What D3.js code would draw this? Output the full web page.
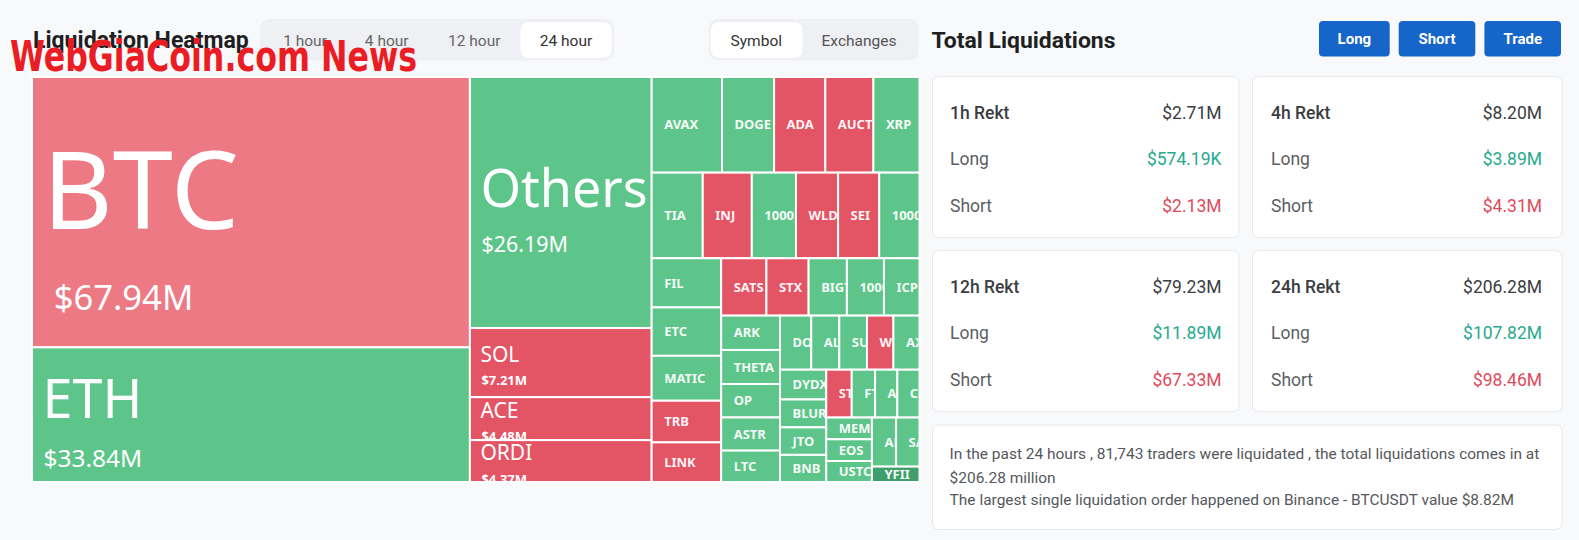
<!DOCTYPE html>
<html><head><meta charset="utf-8">
<script src="https://cdn.jsdelivr.net/npm/d3@7"></script>
<style>
html,body{margin:0;padding:0;background:#f8f9fa;}
svg{display:block;}
</style></head><body>
<svg id="c" width="1579" height="540"></svg>
<script>
// ---------- data ----------
const symbols = ["BTC","ETH","Others","SOL","ACE","ORDI","AVAX","DOGE","ADA","AUCTION","XRP","TIA","INJ","1000PEPE","WLD","SEI","1000BONK","FIL","ETC","MATIC","TRB","LINK","SATS","STX","BIGTIME","1000LUNC","ICP","ARK","THETA","OP","ASTR","LTC","DOT","ALT","SUI","WOO","AXS","DYDX","BLUR","JTO","BNB","STORJ","FTM","ATOM","CFX","MEME","EOS","USTC","APT","SAND","YFII"];
const amounts = [67.94,33.84,26.19,7.21,4.48,4.37,3.86,2.86,2.81,2.64,2.53,2.51,2.41,2.17,2.07,2.02,1.98,1.96,1.93,1.79,1.66,1.58,1.49,1.39,1.26,1.22,1.17,1.16,1.15,1.13,1.12,1.06,0.97,0.87,0.86,0.82,0.81,0.79,0.74,0.73,0.72,0.70,0.64,0.61,0.61,0.57,0.57,0.55,0.68,0.66,0.42];
const sides = ["S","L","L","S","S","S","L","L","S","S","L","L","S","L","S","S","L","L","L","L","S","S","S","S","L","L","L","L","L","L","L","L","L","L","L","S","L","L","L","L","L","S","L","L","L","L","L","L","L","L","L"];

const periods = ["1h","4h","12h","24h"];
const rektTotal = [2.71, 8.20, 79.23, 206.28];
const rektLong = [0.57419, 3.89, 11.89, 107.82];
const rektShort = [2.13, 4.31, 67.33, 98.46];

const timeTabs = ["1 hour","4 hour","12 hour","24 hour"];
const viewTabs = ["Symbol","Exchanges"];
const actionButtons = ["Long","Short","Trade"];
const summaryLines = [
  "In the past 24 hours , 81,743 traders were liquidated , the total liquidations comes in at",
  "$206.28 million",
  "The largest single liquidation order happened on Binance - BTCUSDT value $8.82M"
];

// ---------- helpers ----------
const F = "'Noto Sans', 'Open Sans', sans-serif";
const UI = "Roboto, 'Noto Sans', sans-serif";
const svg = d3.select("#c");
const W = 1579, H = 540;
svg.append("rect").attr("width", W).attr("height", H).attr("fill", "#f8f9fa");
const defs = svg.append("defs");

function fitWidth(t, target) {
  const len = t.node().getComputedTextLength();
  const fs = parseFloat(t.attr("font-size"));
  t.attr("font-size", fs * target / len);
  return fs * target / len;
}
function money(v) {
  return v < 1 ? "$" + (v * 1000).toFixed(2) + "K" : "$" + v.toFixed(2) + "M";
}

// ---------- header left ----------
const title = svg.append("text").attr("x", 33).attr("y", 48).attr("font-family", UI)
  .attr("font-weight", 700).attr("font-size", 21).attr("fill", "#1d1f23").text("Liquidation Heatmap");
fitWidth(title, 216);

svg.append("rect").attr("x", 260).attr("y", 19).attr("width", 354).attr("height", 41.5).attr("rx", 9).attr("fill", "#eef0f3");
svg.append("rect").attr("x", 520.5).attr("y", 22).attr("width", 91).attr("height", 36).attr("rx", 8).attr("fill", "#fff");
const tabCx = [305, 386.7, 474.3, 566];
timeTabs.forEach((t, i) => {
  svg.append("text").attr("x", tabCx[i]).attr("y", 40.3).attr("dy", "0.35em").attr("text-anchor", "middle")
    .attr("font-family", UI).attr("font-size", 15.5).attr("fill", i === 3 ? "#333" : "#666").text(t);
});

svg.append("rect").attr("x", 709).attr("y", 19).attr("width", 209.5).attr("height", 41.5).attr("rx", 9).attr("fill", "#eef0f3");
svg.append("rect").attr("x", 711).attr("y", 22).attr("width", 91.5).attr("height", 36).attr("rx", 8).attr("fill", "#fff");
const viewCx = [756.3, 859];
viewTabs.forEach((t, i) => {
  svg.append("text").attr("x", viewCx[i]).attr("y", 40.3).attr("dy", "0.35em").attr("text-anchor", "middle")
    .attr("font-family", UI).attr("font-size", 15.5).attr("fill", i === 0 ? "#333" : "#555").text(t);
});

// ---------- treemap ----------
const TX = 32, TY = 77, TW = 887.5, TH = 405;
const root = d3.hierarchy({ children: symbols.map((s, i) => ({ name: s, value: amounts[i], side: sides[i] })) })
  .sum(d => d.value || 0);
d3.treemap().tile(d3.treemapSquarify).size([TW, TH]).round(false)(root);

const colorOf = d => d.data.name === "BTC" ? "#ec7984"
  : d.data.name === "YFII" ? "#3f9f6a"
  : d.data.side === "S" ? "#e35464" : "#5ec58a";

const tg = svg.append("g").attr("transform", `translate(${TX},${TY})`);
defs.append("clipPath").attr("id", "tmclip").append("rect")
  .attr("x", 1).attr("y", 1).attr("width", TW - 2).attr("height", TH - 2);

const leaves = root.leaves();
leaves.forEach((d, i) => {
  defs.append("clipPath").attr("id", "cp" + i).append("rect")
    .attr("x", d.x0 + 1).attr("y", d.y0 + 1)
    .attr("width", Math.max(0, d.x1 - d.x0 - 2)).attr("height", Math.max(0, d.y1 - d.y0 - 2));
});

const cells = tg.selectAll("g.cell").data(leaves).join("g").attr("class", "cell");
cells.append("rect")
  .attr("x", d => d.x0).attr("y", d => d.y0)
  .attr("width", d => d.x1 - d.x0).attr("height", d => d.y1 - d.y0)
  .attr("fill", colorOf).attr("stroke", "#fff").attr("stroke-width", 2);

cells.each(function (d, i) {
  const c = d3.select(this);
  const w = d.x1 - d.x0, h = d.y1 - d.y0, v = d.data.value;
  const cy = (d.y0 + d.y1) / 2;
  if (v >= 4) {
    const wrap = c.append("g").attr("clip-path", "url(#tmclip)");
    const t = wrap.append("text").attr("font-family", F).attr("font-size", 100).attr("fill", "#fff").text(d.data.name);
    let N = 21;
    if (v >= 20) {
      const len = t.node().getComputedTextLength();
      N = Math.min(0.4 * h, 0.92 * w * 100 / len);
    }
    const V = Math.max(13, 4.2 * Math.sqrt(v));
    const nb = cy + 0.381 * N - 0.693 * V;
    const vb = nb + 0.335 * N + 1.275 * V;
    t.attr("font-size", N).attr("x", d.x0 + 10.5).attr("y", nb);
    wrap.append("text").attr("font-family", F).attr("font-size", V).attr("font-weight", v < 20 ? 700 : 400)
      .attr("fill", "#fff").attr("x", d.x0 + Math.max(11.5, 0.2 * N)).attr("y", vb).text(money(v));
  } else {
    c.append("g").attr("clip-path", `url(#cp${i})`)
      .append("text").attr("font-family", F).attr("font-size", 13).attr("font-weight", 700)
      .attr("fill", "#fff").attr("fill-opacity", 0.95)
      .attr("x", d.x0 + 12.5).attr("y", cy).attr("dy", "0.36em").text(d.data.name);
  }
});

// ---------- right panel ----------
const tl = svg.append("text").attr("x", 931.5).attr("y", 47.5).attr("font-family", UI)
  .attr("font-weight", 700).attr("font-size", 22).attr("fill", "#1d1f23").text("Total Liquidations");
fitWidth(tl, 184);

const btnX = [1319, 1398.7, 1484.4], btnW = [70.7, 76.6, 76.6];
actionButtons.forEach((b, i) => {
  svg.append("rect").attr("x", btnX[i]).attr("y", 21).attr("width", btnW[i]).attr("height", 35.5).attr("rx", 4).attr("fill", "#1566c8");
  svg.append("text").attr("x", btnX[i] + btnW[i] / 2).attr("y", 38.8).attr("dy", "0.35em").attr("text-anchor", "middle")
    .attr("font-family", UI).attr("font-weight", 700).attr("font-size", 15).attr("fill", "#fff").text(b);
});

const colX0 = [932.5, 1252.5], colX1 = [1239, 1562], rowY0 = [76.5, 250.7];
const padL = [17.5, 18.5], padR = [17.5, 20];
periods.forEach((p, i) => {
  const col = i % 2, row = Math.floor(i / 2);
  const x0 = colX0[col], x1 = colX1[col], y0 = rowY0[row];
  svg.append("rect").attr("x", x0).attr("y", y0).attr("width", x1 - x0).attr("height", 161).attr("rx", 6)
    .attr("fill", "#fff").attr("stroke", "#e6e8eb");
  const rows = [
    [p + " Rekt", money(rektTotal[i]), "#3b3d42", "#3b3d42", 500],
    ["Long", money(rektLong[i]), "#5b5e63", "#28a98f", 400],
    ["Short", money(rektShort[i]), "#5b5e63", "#e04a5c", 400]
  ];
  const offs = [36.3, 82.6, 129];
  rows.forEach((r, k) => {
    svg.append("text").attr("x", x0 + padL[col]).attr("y", y0 + offs[k]).attr("dy", "0.35em")
      .attr("font-family", UI).attr("font-size", 17.5).attr("font-weight", r[4]).attr("fill", r[2]).text(r[0]);
    svg.append("text").attr("x", x1 - padR[col]).attr("y", y0 + offs[k]).attr("dy", "0.35em").attr("text-anchor", "end")
      .attr("font-family", UI).attr("font-size", 17.5).attr("fill", r[3]).text(r[1]);
  });
});

svg.append("rect").attr("x", 932.5).attr("y", 425).attr("width", 629.5).attr("height", 104.5).attr("rx", 6)
  .attr("fill", "#fff").attr("stroke", "#e6e8eb");
const lineY = [454, 477.3, 499.5];
let sumSize = 14.5;
summaryLines.forEach((s, i) => {
  const t = svg.append("text").attr("x", 949.6).attr("y", lineY[i]).attr("dy", "0.35em")
    .attr("font-family", UI).attr("font-size", sumSize).attr("fill", "#55585d").text(s);
  if (i === 0) sumSize = fitWidth(t, 590);
});

// ---------- watermark ----------
svg.append("text").attr("x", 10).attr("y", 70.5)
  .attr("font-family", "'DejaVu Sans Condensed', 'Liberation Sans Narrow', sans-serif")
  .attr("font-weight", 700).attr("font-size", 42).attr("fill", "#ea1d25")
  .attr("textLength", 407).attr("lengthAdjust", "spacingAndGlyphs").text("WebGiaCoin.com News");
</script>
</body></html>
